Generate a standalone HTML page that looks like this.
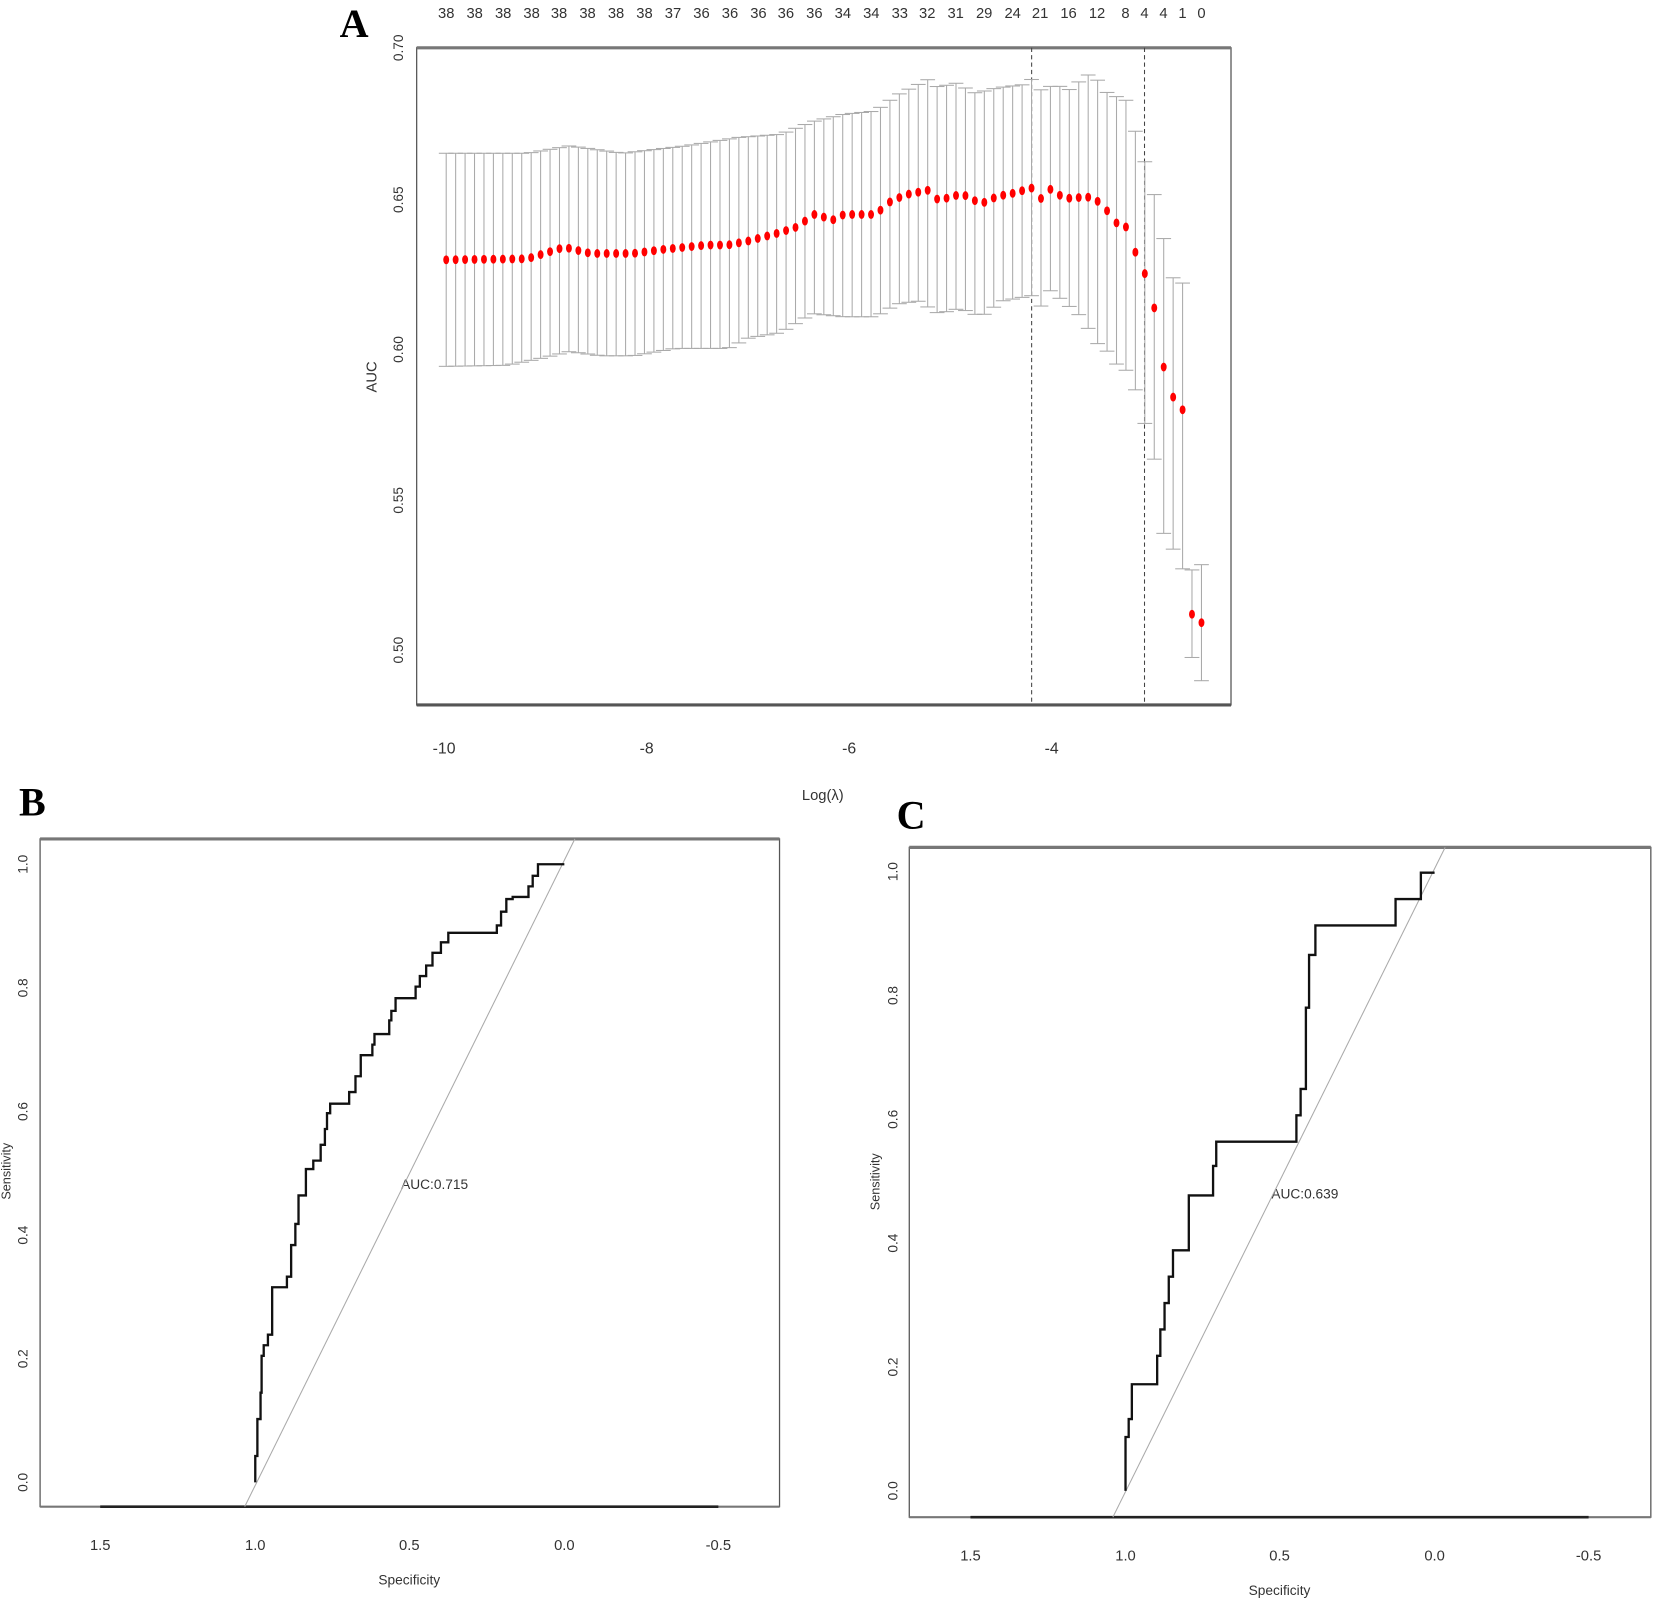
<!DOCTYPE html>
<html><head><meta charset="utf-8"><style>
html,body{margin:0;padding:0;background:#fff;}
svg{display:block;font-family:"Liberation Sans",sans-serif;}
.n{font-family:"Liberation Sans Narrow","Liberation Sans",sans-serif;}
</style></head><body>
<svg id="s" width="1654" height="1604" viewBox="0 0 1568 1520" xmlns="http://www.w3.org/2000/svg">
<rect width="1568" height="1520" fill="#fff"/>
<!-- Panel A -->
<text x="322" y="35" font-family="Liberation Serif" font-weight="bold" font-size="38">A</text>
<rect x="395" y="45" width="772" height="623" fill="none" stroke="#555" stroke-width="1.2"/>
<line x1="395" y1="45" x2="1167" y2="45" stroke="#777" stroke-width="3"/>
<line x1="395" y1="668" x2="1167" y2="668" stroke="#555" stroke-width="3"/>
<g id="aticks" stroke="#333" stroke-width="1"></g>
<g font-size="13" fill="#333" id="ylabA"></g>
<text transform="translate(357,357) rotate(-90)" font-size="14" fill="#333" text-anchor="middle">AUC</text>
<g font-size="15" fill="#333" text-anchor="middle" class="n">
<text x="421" y="714">-10</text><text x="613" y="714">-8</text><text x="805" y="714">-6</text><text x="997" y="714">-4</text>
<text x="780" y="758" font-size="14">Log(λ)</text>
</g>
<g id="topn" font-size="14" fill="#333" text-anchor="middle" class="n"></g>
<line x1="978" y1="45" x2="978" y2="668" stroke="#444" stroke-dasharray="4,3"/>
<line x1="1085" y1="45" x2="1085" y2="668" stroke="#444" stroke-dasharray="4,3"/>
<g id="err" stroke="#aaa" stroke-width="1"></g>
<g id="pts" fill="#f00"></g>

<!-- Panel B -->
<text x="18" y="773" font-family="Liberation Serif" font-weight="bold" font-size="38">B</text>
<rect x="38" y="795" width="701" height="633" fill="none" stroke="#555" stroke-width="1.2"/>
<line x1="38" y1="795" x2="739" y2="795" stroke="#777" stroke-width="3"/>
<line x1="38" y1="1428" x2="739" y2="1428" stroke="#777" stroke-width="2"/>
<line x1="95" y1="1428" x2="681" y2="1428" stroke="#222" stroke-width="2.5"/>
<g id="ylabB" font-size="13" fill="#333"></g>
<text transform="translate(10,1110) rotate(-90)" font-size="12" fill="#333" text-anchor="middle">Sensitivity</text>
<g font-size="14" fill="#333" text-anchor="middle" class="n">
<text x="95" y="1469">1.5</text><text x="242" y="1469">1.0</text><text x="388" y="1469">0.5</text><text x="535" y="1469">0.0</text><text x="681" y="1469">-0.5</text>
<text x="388" y="1502" font-size="13">Specificity</text>
<text x="412" y="1127" font-size="13">AUC:0.715</text>
</g>
<line x1="232" y1="1428" x2="545" y2="795" stroke="#aaa" stroke-width="1"/>
<path fill="none" stroke="#111" stroke-width="2.2" d="M242,1405 L242,1380 L244,1380 L244,1345 L247,1345 L247,1320 L248,1320 L248,1285 L250,1285 L250,1275 L254,1275 L254,1265 L257,1265 L258,1265 L258,1220 L272,1220 L272,1210 L276,1210 L276,1180 L280,1180 L280,1160 L283,1160 L283,1133 L290,1133 L290,1108 L297,1108 L297,1100 L304,1100 L304,1085 L308,1085 L308,1070 L310,1070 L310,1055 L313,1055 L313,1046 L331,1046 L331,1035 L337,1035 L337,1020 L342,1020 L342,1000 L353,1000 L353,990 L355,990 L355,980 L369,980 L369,967 L371,967 L371,958 L375,958 L375,946 L394,946 L394,935 L398,935 L398,925 L404,925 L404,915 L410,915 L410,903 L418,903 L418,893 L425,893 L425,884 L471,884 L471,877 L475,877 L475,864 L480,864 L480,852 L486,852 L486,850 L501,850 L501,840 L505,840 L505,830 L510,830 L510,819 L514,819 L535,819"/>

<!-- Panel C -->
<text x="850" y="785" font-family="Liberation Serif" font-weight="bold" font-size="38">C</text>
<rect x="862" y="803" width="703" height="635" fill="none" stroke="#555" stroke-width="1.2"/>
<line x1="862" y1="803" x2="1565" y2="803" stroke="#777" stroke-width="3"/>
<line x1="862" y1="1438" x2="1565" y2="1438" stroke="#777" stroke-width="2"/>
<line x1="920" y1="1438" x2="1506" y2="1438" stroke="#222" stroke-width="2.5"/>
<g id="ylabC" font-size="13" fill="#333"></g>
<text transform="translate(834,1120) rotate(-90)" font-size="12" fill="#333" text-anchor="middle">Sensitivity</text>
<g font-size="14" fill="#333" text-anchor="middle" class="n">
<text x="920" y="1479">1.5</text><text x="1067" y="1479">1.0</text><text x="1213" y="1479">0.5</text><text x="1360" y="1479">0.0</text><text x="1506" y="1479">-0.5</text>
<text x="1213" y="1512" font-size="13">Specificity</text>
<text x="1237" y="1136" font-size="13">AUC:0.639</text>
</g>
<line x1="1055" y1="1438" x2="1370" y2="803" stroke="#aaa" stroke-width="1"/>
<path fill="none" stroke="#111" stroke-width="2.2" d="M1067,1413 L1067,1362 L1070,1362 L1070,1345 L1073,1345 L1073,1312 L1097,1312 L1097,1285 L1100,1285 L1100,1260 L1104,1260 L1104,1235 L1108,1235 L1108,1210 L1112,1210 L1112,1185 L1127,1185 L1127,1133 L1150,1133 L1150,1105 L1153,1105 L1153,1082 L1229,1082 L1229,1057 L1233,1057 L1233,1032 L1238,1032 L1238,955 L1241,955 L1241,905 L1247,905 L1247,877 L1253,877 L1323,877 L1323,852 L1347,852 L1347,827 L1360,827"/>
</svg>
<script>
var NS="http://www.w3.org/2000/svg";
function el(p,t,a,txt){var e=document.createElementNS(NS,t);for(var k in a)e.setAttribute(k,a[k]);if(txt!=null)e.textContent=txt;document.getElementById(p).appendChild(e);return e;}
function rl(p,x,y,t){el(p,"text",{x:x,y:y,transform:"rotate(-90 "+x+" "+y+")","text-anchor":"middle"},t);}
// A y labels
var yl=[["0.70",45],["0.65",189],["0.60",331],["0.55",474],["0.50",616]];
yl.forEach(function(a){rl("ylabA",382,a[1],a[0]);});
// B,C y labels
for(var i=0;i<=5;i++){var v=(i*0.2).toFixed(1);rl("ylabB",26,1405-i*117.2,v);rl("ylabC",851,1413-i*117.4,v);}
var tn=[38,38,38,38,38,38,38,38,37,36,36,36,36,36,34,34,33,32,31,29,24,21,16,12,8,4,4,1,0];
var tx=[423,450,477,504,530,557,584,611,638,665,692,719,745,772,799,826,853,879,906,933,960,986,1013,1040,1067,1085,1103,1121,1139];
for(var i=0;i<tn.length;i++)el("topn","text",{x:tx[i],y:17},tn[i]);
function interp(arr,x){for(var i=0;i<arr.length-1;i++){if(x<=arr[i+1][0]){var a=arr[i],b=arr[i+1];return a[1]+(b[1]-a[1])*(x-a[0])/(b[0]-a[0]);}}return arr[arr.length-1][1];}
var M=[[423,246],[500,245],[535,234],[560,240],[600,240],[630,236],[670,232],[690,232],[710,228],[740,220],[755,215],[772,203],[790,208],[800,203],[830,203],[845,190],[860,184],[880,180],[890,190],[905,185],[915,185],[930,193],[945,186],[960,183],[978,178],[987,188],[996,179],[1005,185],[1015,188],[1030,186],[1040,190],[1050,200],[1060,213],[1068,215],[1076,238],[1085,258],[1094,290],[1103,347],[1112,376],[1121,386],[1130,582],[1139,590]];
var U=[[423,145],[500,145],[540,138],[590,145],[650,138],[700,130],[740,127],[770,115],[800,108],[830,105],[850,90],[870,80],[880,75],[890,83],[905,78],[925,88],[945,83],[970,80],[978,75],[987,85],[1000,80],[1015,85],[1030,70],[1040,75],[1050,88],[1068,95],[1076,123],[1085,152],[1094,183],[1103,225],[1112,263],[1121,265],[1130,540],[1139,535]];
var L=[[423,347],[480,346],[510,340],[540,333],[570,337],[600,337],[640,330],[690,330],[710,320],[740,315],[770,297],[800,300],[830,300],[850,288],[870,285],[890,297],[910,292],[930,300],[950,285],[978,280],[987,290],[996,275],[1010,287],[1025,300],[1040,325],[1050,333],[1060,347],[1070,352],[1076,368],[1085,400],[1094,433],[1103,505],[1112,520],[1121,538],[1130,623],[1139,645]];
for(var i=0;i<=80;i++){var x=423+i*8.95;if(i==79)x=1130;if(i==80)x=1139;
var m=interp(M,x),u=interp(U,x),l=interp(L,x);
el("err","line",{x1:x,y1:u,x2:x,y2:l});
el("err","line",{x1:x-7,y1:u,x2:x+7,y2:u});
el("err","line",{x1:x-7,y1:l,x2:x+7,y2:l});
el("pts","ellipse",{cx:x,cy:m,rx:2.8,ry:4.2});}
</script>
</body></html>
